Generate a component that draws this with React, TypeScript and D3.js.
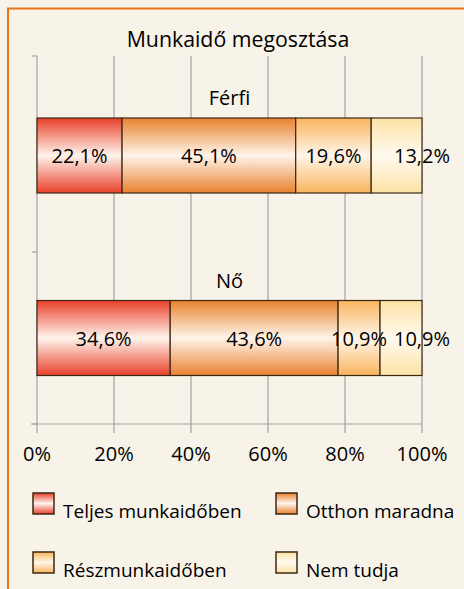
import React, { useEffect, useRef } from "react";
import * as d3 from "d3";

const categories = ["Férfi", "Nő"];
const seriesNames = ["Teljes munkaidőben", "Otthon maradna", "Részmunkaidőben", "Nem tudja"];
const ferfiValues = [22.1, 45.1, 19.6, 13.2];
const noValues = [34.6, 43.6, 10.9, 10.9];
const xTicks = [0, 20, 40, 60, 80, 100];
const edgeColors = ["#e8402a", "#e8822e", "#f9b45c", "#fde2a4"];
const centerColors = ["#fff4ec", "#fff4ea", "#fff6ea", "#fffaf0"];

const width = 464;
const height = 589;
const plot = { left: 37, right: 422, top: 56, bottom: 424 };
const font = "'Open Sans', 'Noto Sans', sans-serif";

export default function App() {
    const ref = useRef<SVGSVGElement>(null);

    useEffect(() => {
        const svg = d3.select(ref.current);
        svg.selectAll("*").remove();

        const defs = svg.append("defs");
        edgeColors.forEach((c, i) => {
            const g = defs.append("linearGradient")
                .attr("id", `grad${i}`)
                .attr("x1", 0).attr("y1", 0).attr("x2", 0).attr("y2", 1);
            g.append("stop").attr("offset", "0%").attr("stop-color", c);
            g.append("stop").attr("offset", "50%").attr("stop-color", centerColors[i]);
            g.append("stop").attr("offset", "100%").attr("stop-color", c);
        });

        svg.append("rect")
            .attr("width", width).attr("height", height)
            .attr("fill", "#f8f3e8");
        svg.append("path")
            .attr("d", `M8,${height} V8.5 H${width}`)
            .attr("fill", "none")
            .attr("stroke", "#e8751a")
            .attr("stroke-width", 2);

        svg.append("text")
            .attr("x", 238).attr("y", 47)
            .attr("text-anchor", "middle")
            .attr("font-family", font)
            .attr("font-size", 21.3)
            .attr("fill", "#000")
            .text("Munkaidő megosztása");

        const x = d3.scaleLinear().domain([0, 100]).range([plot.left, plot.right]);
        const yCenter = d3.scaleOrdinal<string, number>().domain(categories).range([155.5, 338]);
        const bandEdges = [plot.top, 252, plot.bottom];
        const barH = 75;

        // gridlines
        svg.append("g").selectAll("line").data(xTicks).join("line")
            .attr("x1", d => x(d)).attr("x2", d => x(d))
            .attr("y1", plot.top).attr("y2", plot.bottom + 9)
            .attr("stroke", "#a3a3a3").attr("stroke-width", 1.2);

        // axes
        svg.append("line")
            .attr("x1", plot.left - 6).attr("x2", plot.right)
            .attr("y1", plot.bottom).attr("y2", plot.bottom)
            .attr("stroke", "#a3a3a3").attr("stroke-width", 1.2);
        svg.append("g").selectAll("line").data(bandEdges).join("line")
            .attr("x1", plot.left - 5).attr("x2", plot.left)
            .attr("y1", d => d).attr("y2", d => d)
            .attr("stroke", "#a3a3a3").attr("stroke-width", 1.2);

        svg.append("g").selectAll("text").data(xTicks).join("text")
            .attr("x", d => x(d)).attr("y", 461)
            .attr("text-anchor", "middle")
            .attr("font-family", font).attr("font-size", 20)
            .attr("fill", "#000")
            .text(d => `${d}%`);

        const rows = [ferfiValues, noValues];
        rows.forEach((vals, ri) => {
            const cy = yCenter(categories[ri]);
            const stacked = d3.cumsum(vals);
            const g = svg.append("g");
            g.append("text")
                .attr("x", x(50)).attr("y", cy - barH / 2 - 13)
                .attr("text-anchor", "middle")
                .attr("font-family", font).attr("font-size", 20)
                .attr("fill", "#000")
                .text(categories[ri]);
            vals.forEach((v, si) => {
                const x0 = x(stacked[si] - v);
                const x1 = x(stacked[si]);
                g.append("rect")
                    .attr("x", x0).attr("y", cy - barH / 2)
                    .attr("width", x1 - x0).attr("height", barH)
                    .attr("fill", `url(#grad${si})`)
                    .attr("stroke", "#3a2816").attr("stroke-width", 1.2);
            });
            vals.forEach((v, si) => {
                const lx = si === vals.length - 1 ? x(stacked[si]) : x(stacked[si] - v / 2);
                g.append("text")
                    .attr("x", lx).attr("y", cy + 7.5)
                    .attr("text-anchor", "middle")
                    .attr("font-family", font).attr("font-size", 20)
                    .attr("fill", "#000")
                    .text(`${v.toFixed(1).replace(".", ",")}%`);
            });
        });

        // legend
        const legend = svg.append("g");
        seriesNames.forEach((name, i) => {
            const lx = i % 2 === 0 ? 33 : 276;
            const ly = i < 2 ? 493 : 552;
            legend.append("rect")
                .attr("x", lx).attr("y", ly)
                .attr("width", 21).attr("height", 21)
                .attr("fill", `url(#grad${i})`)
                .attr("stroke", "#3a2816").attr("stroke-width", 1.5);
            legend.append("text")
                .attr("x", lx + 30).attr("y", ly + 25)
                .attr("font-family", font).attr("font-size", 19)
                .attr("fill", "#000")
                .text(name);
        });
    }, []);

    return (
        <svg
            ref={ref}
            width={width}
            height={height}
            style={{ position: "absolute", left: 0, top: 0, display: "block" }}
        />
    );
}
